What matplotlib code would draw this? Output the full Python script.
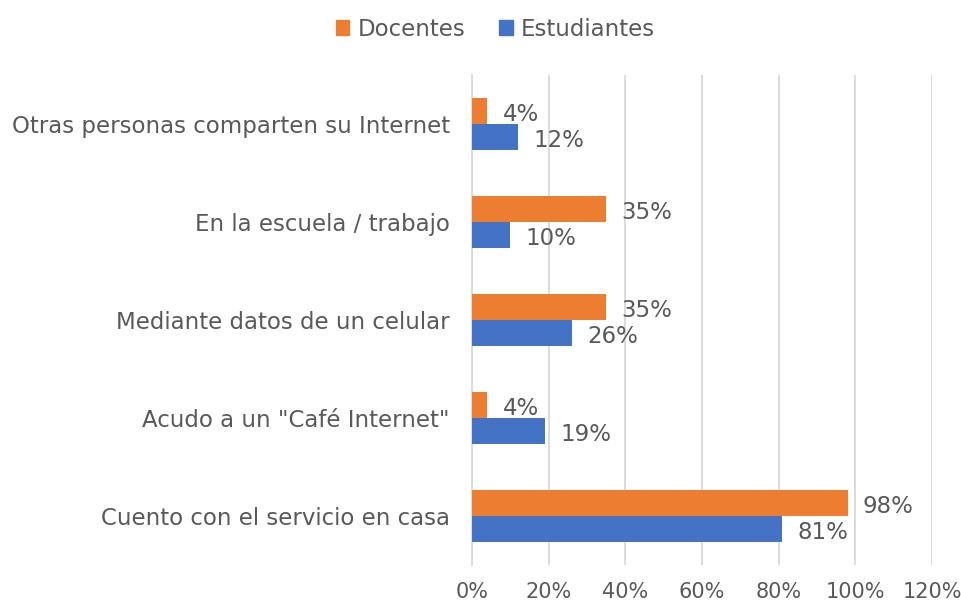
import matplotlib.pyplot as plt
import numpy as np
from matplotlib.patches import Patch

# -----------------------------
# DATA
# -----------------------------
categories = [
    "Cuento con el servicio en casa",
    'Acudo a un "Café Internet"',
    "Mediante datos de un celular",
    "En la escuela / trabajo",
    "Otras personas comparten su Internet",
]
docentes = [98, 4, 35, 35, 4]
estudiantes = [81, 19, 26, 10, 12]
x_ticks = [0, 20, 40, 60, 80, 100, 120]

ORANGE = "#ED7D31"
BLUE = "#4472C4"
TEXT = "#595959"
GRID = "#D9D9D9"
FS = 16.5

plt.rcParams["font.family"] = ["DejaVu Sans"]

fig = plt.figure(figsize=(9.62, 6.07), dpi=100)
ax = fig.add_axes([472 / 962, 1 - 565 / 607, 460 / 962, 490 / 607])

y = np.arange(len(categories))
h = 0.265
bars_d = ax.barh(y + h / 2, docentes, height=h, color=ORANGE, zorder=3)
bars_e = ax.barh(y - h / 2, estudiantes, height=h, color=BLUE, zorder=3)

for bars, vals in [(bars_d, docentes), (bars_e, estudiantes)]:
    for b, v in zip(bars, vals):
        ax.annotate(f"{v}%", (v, b.get_y() + b.get_height() / 2),
                    xytext=(11, -2.5), textcoords="offset points",
                    va="center", ha="left", fontsize=FS, color=TEXT)

ax.set_xlim(0, 120)
ax.set_ylim(-0.5, len(categories) - 0.5)
ax.set_xticks(x_ticks)
ax.set_xticklabels([f"{t}%" for t in x_ticks])
ax.set_yticks(y)
ax.set_yticklabels(categories)
ax.tick_params(axis="both", length=0, labelcolor=TEXT)
ax.tick_params(axis="y", pad=16, labelsize=FS)
ax.tick_params(axis="x", pad=12, labelsize=15)

ax.grid(axis="x", color=GRID, linewidth=1.3, zorder=0)
for s in ["top", "right", "bottom"]:
    ax.spines[s].set_visible(False)
ax.spines["left"].set_color(GRID)
ax.spines["left"].set_linewidth(1.3)

handles = [Patch(color=ORANGE, label="Docentes"), Patch(color=BLUE, label="Estudiantes")]
fig.legend(handles=handles, loc="upper center", bbox_to_anchor=(0.515, 1.005), ncol=2,
           frameon=False, fontsize=FS, labelcolor=TEXT, handlelength=0.6,
           handleheight=0.6, handletextpad=0.35, columnspacing=1.5)

fig.savefig("out.png", dpi=100)
